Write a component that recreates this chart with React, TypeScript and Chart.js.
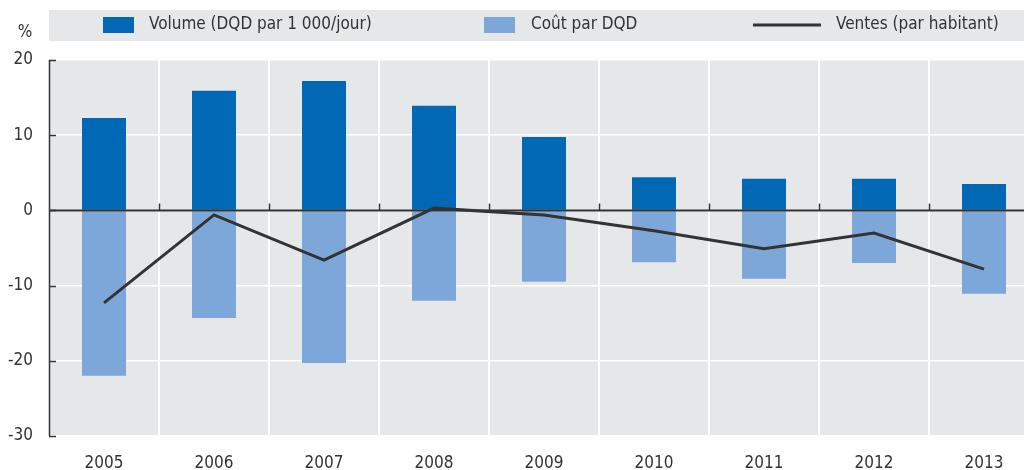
import React, { useEffect, useRef } from "react";
import { Chart, registerables } from "chart.js";

Chart.register(...registerables);

const categories = ["2005", "2006", "2007", "2008", "2009", "2010", "2011", "2012", "2013"];
const volume = [12.3, 15.9, 17.2, 13.9, 9.75, 4.4, 4.2, 4.2, 3.5];
const costPerDDD = [-22.0, -14.3, -20.3, -12.0, -9.5, -6.9, -9.1, -7.0, -11.1];
const sales = [-12.3, -0.6, -6.6, 0.3, -0.6, -2.7, -5.1, -3.0, -7.8];
const seriesLabels = ["Volume (DQD par 1 000/jour)", "Coût par DQD", "Ventes (par habitant)"];
const yUnit = "%";

const FONT = "'Liberation Sans Narrow', 'Arial Narrow', 'DejaVu Sans Condensed', sans-serif";
const FS = 17;
const TEXT = "#333333";
const PLOT_BG = "#e6e7e9";
const DARK = "#0068b5";
const LIGHT = "#7ea7d9";
const LINE = "#333333";

const decorPlugin = {
  id: "decor",
  beforeDraw(chart: any) {
    const { ctx, chartArea } = chart;
    ctx.save();
    ctx.fillStyle = PLOT_BG;
    ctx.fillRect(chartArea.left, chartArea.top, chartArea.right - chartArea.left, chartArea.bottom - chartArea.top);
    // legend band
    ctx.fillRect(chartArea.left, 10, chartArea.right - chartArea.left, 31);
    ctx.restore();
  },
  afterDraw(chart: any) {
    const { ctx, chartArea, scales } = chart;
    const y = scales.y;
    ctx.save();
    // y axis line and inner ticks
    ctx.strokeStyle = TEXT;
    ctx.lineWidth = 1.5;
    ctx.beginPath();
    ctx.moveTo(chartArea.left + 0.5, chartArea.top);
    ctx.lineTo(chartArea.left + 0.5, chartArea.bottom);
    ctx.stroke();
    y.ticks.forEach((t: any) => {
      const py = Math.round(y.getPixelForValue(t.value)) + 0.5;
      ctx.beginPath();
      ctx.moveTo(chartArea.left, py);
      ctx.lineTo(chartArea.left + 7, py);
      ctx.stroke();
    });
    // unit label
    ctx.fillStyle = TEXT;
    ctx.font = `${FS}px ${FONT}`;
    ctx.textAlign = "center";
    ctx.textBaseline = "middle";
    ctx.fillText(yUnit, 25, 33);

    // legend
    const legendY = 25;
    ctx.textAlign = "left";
    const ds = chart.data.datasets;
    const items = [
      { kind: "box", color: ds[0].backgroundColor, label: ds[0].label, x0: 103, w: 31, tx: 149 },
      { kind: "box", color: ds[1].backgroundColor, label: ds[1].label, x0: 484, w: 31, tx: 531 },
      { kind: "line", color: ds[2].borderColor, label: ds[2].label, x0: 753, w: 68, tx: 836 },
    ];
    items.forEach((it) => {
      if (it.kind === "box") {
        ctx.fillStyle = it.color;
        ctx.fillRect(it.x0, legendY - 8, it.w, 16);
      } else {
        ctx.strokeStyle = it.color;
        ctx.lineWidth = 3;
        ctx.beginPath();
        ctx.moveTo(it.x0, legendY);
        ctx.lineTo(it.x0 + it.w, legendY);
        ctx.stroke();
      }
      ctx.fillStyle = TEXT;
      ctx.fillText(it.label, it.tx, legendY);
    });
    ctx.restore();
  },
  afterDatasetDraw(chart: any, args: any) {
    if (args.index !== 0) return;
    const { ctx, chartArea, scales } = chart;
    const y0 = Math.round(scales.y.getPixelForValue(0)) + 0.5;
    const x = scales.x;
    ctx.save();
    ctx.strokeStyle = TEXT;
    ctx.lineWidth = 1.8;
    ctx.beginPath();
    ctx.moveTo(chartArea.left, y0);
    ctx.lineTo(chartArea.right, y0);
    ctx.stroke();
    // upward ticks at category boundaries
    const n = chart.data.labels.length;
    ctx.lineWidth = 1.5;
    for (let i = 1; i < n; i++) {
      const px = Math.round((x.getPixelForTick(i - 1) + x.getPixelForTick(i)) / 2) + 0.5;
      ctx.beginPath();
      ctx.moveTo(px, y0);
      ctx.lineTo(px, y0 - 7);
      ctx.stroke();
    }
    ctx.restore();
  },
};

export default function App() {
  const ref = useRef<HTMLCanvasElement | null>(null);
  useEffect(() => {
    document.body.style.margin = "0";
    document.documentElement.style.overflow = "hidden";
    const chart = new Chart(ref.current as HTMLCanvasElement, {
      type: "bar",
      data: {
        labels: categories,
        datasets: [
          {
            type: "bar",
            label: seriesLabels[0],
            data: volume,
            backgroundColor: DARK,
            barPercentage: 0.4,
            categoryPercentage: 1,
            stack: "s",
            order: 1,
          },
          {
            type: "bar",
            label: seriesLabels[1],
            data: costPerDDD,
            backgroundColor: LIGHT,
            barPercentage: 0.4,
            categoryPercentage: 1,
            stack: "s",
            order: 1,
          },
          {
            type: "line",
            label: seriesLabels[2],
            data: sales,
            borderColor: LINE,
            borderWidth: 3,
            pointRadius: 0,
            tension: 0,
            order: 0,
          } as any,
        ],
      },
      options: {
        responsive: false,
        animation: false,
        devicePixelRatio: 1,
        layout: { padding: { top: 60, left: 0, right: 1, bottom: 0 } },
        plugins: { legend: { display: false }, tooltip: { enabled: false } },
        scales: {
          x: {
            stacked: true,
            offset: true,
            grid: { color: "#ffffff", lineWidth: 2, drawTicks: false, offset: true },
            border: { display: false },
            ticks: { color: TEXT, font: { family: FONT, size: FS }, padding: 17, maxRotation: 0 },
            afterFit: (s: any) => {
              s.height = 34;
            },
          },
          y: {
            stacked: true,
            min: -30,
            max: 20,
            ticks: { stepSize: 10, color: TEXT, font: { family: FONT, size: FS }, padding: 16 },
            grid: { color: "#ffffff", lineWidth: 1.5, drawTicks: false },
            border: { display: false },
            afterFit: (s: any) => {
              s.width = 49;
            },
          },
        },
      },
      plugins: [decorPlugin],
    });
    return () => chart.destroy();
  }, []);
  return (
    <div style={{ position: "fixed", left: 0, top: 0, width: 1024, height: 470, overflow: "hidden", background: "#fff" }}>
      <canvas ref={ref} width={1040} height={470} style={{ display: "block" }} />
    </div>
  );
}
